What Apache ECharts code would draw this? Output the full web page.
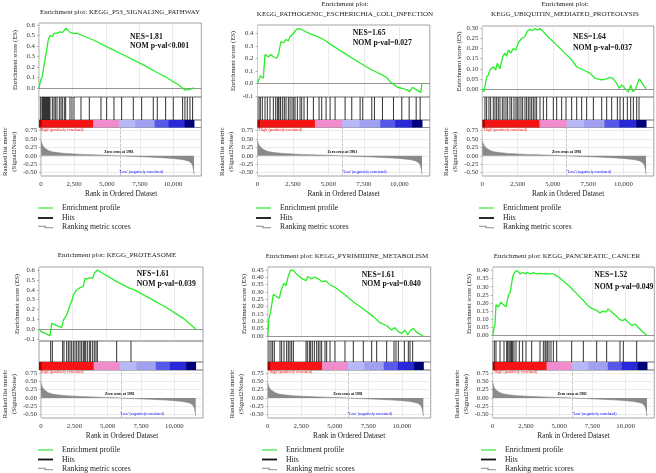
<!DOCTYPE html>
<html><head><meta charset="utf-8">
<script src="https://cdn.jsdelivr.net/npm/echarts@6/dist/echarts.min.js"></script>
<style>html,body{margin:0;padding:0;background:#fff}#c{width:656px;height:473px}</style>
</head><body><div id="c"></div>
<script>
// ================= DATA =================
const titleLines1 = ['Enrichment plot: KEGG_P53_SIGNALING_PATHWAY'];
const titleLines2 = ['Enrichment plot:', 'KEGG_PATHOGENIC_ESCHERICHIA_COLI_INFECTION'];
const titleLines3 = ['Enrichment plot:', 'KEGG_UBIQUITIN_MEDIATED_PROTEOLYSIS'];
const titleLines4 = ['Enrichment plot: KEGG_PROTEASOME'];
const titleLines5 = ['Enrichment plot: KEGG_PYRIMIDINE_METABOLISM'];
const titleLines6 = ['Enrichment plot: KEGG_PANCREATIC_CANCER'];
const nesLabels = ['NES=1.81', 'NES=1.65', 'NES=1.64', 'NFS=1.61', 'NES=1.61', 'NES=1.52'];
const pvalLabels = ['NOM p-val<0.001', 'NOM p-val=0.027', 'NOM p-val=0.037', 'NOM p-val=0.039', 'NOM p-val=0.040', 'NOM p-val=0.049'];

const xTickLabels = ['0', '2,500', '5,000', '7,500', '10,000'];
const rankTickLabels = ['-0.50', '-0.25', '0.00', '0.25', '0.50', '0.75'];
const esTickLabels1 = ['0.0', '0.1', '0.2', '0.3', '0.4', '0.5', '0.6'];
const esTickLabels2 = ['-0.1', '0.0', '0.1', '0.2', '0.3', '0.4'];
const esTickLabels3 = ['0.00', '0.05', '0.10', '0.15', '0.20', '0.25', '0.30'];
const esTickLabels4 = ['-0.1', '0.0', '0.1', '0.2', '0.3', '0.4', '0.5', '0.6'];
const esTickLabels5 = ['0.00', '0.05', '0.10', '0.15', '0.20', '0.25', '0.30', '0.35', '0.40', '0.45'];
const esTickLabels6 = ['0.00', '0.05', '0.10', '0.15', '0.20', '0.25', '0.30', '0.35', '0.40'];

// Enrichment score curves
const es1Ranks = [0,125,249,399,499,574,698,823,1023,1122,1322,1571,1771,1871,2020,2320,2569,2869,3318,4066,5313,6560,7808,8805,9554,10052,10427,10925,11050,11300,11424,11600];
const es1Values = [0,0.076,0.11,0.235,0.25,0.36,0.46,0.50,0.49,0.52,0.52,0.535,0.53,0.545,0.57,0.53,0.52,0.52,0.495,0.457,0.378,0.30,0.22,0.15,0.10,0.06,0.03,-0.02,-0.035,-0.013,-0.02,0];
const es2Ranks = [0,100,200,340,410,530,770,930,1130,1360,1500,1640,1830,2020,2180,2300,2470,2590,2770,3010,3250,3720,4190,4660,5370,6320,7260,7970,8440,8800,9150,9430,9860,10170,10280,10570,10730,10920,11230,11510,11600];
const es2Values = [0,-0.013,0.06,0.05,0.04,0.23,0.21,0.23,0.21,0.20,0.24,0.33,0.325,0.35,0.34,0.375,0.39,0.40,0.433,0.436,0.42,0.395,0.375,0.35,0.295,0.227,0.16,0.112,0.086,0.067,0.04,0.005,-0.032,-0.04,-0.027,-0.053,-0.067,-0.032,-0.053,-0.075,0];
const es3Ranks = [0,118,236,307,425,543,661,780,945,1063,1252,1441,1606,1725,1843,2008,2197,2386,2551,2788,3024,3189,3378,3567,3733,3898,4087,4323,4678,5150,5741,6331,6686,7158,7631,7985,8221,8458,8576,8812,8930,9049,9285,9521,9686,9875,10040,10159,10348,10513,10655,10820,10938,11127,11600];
const es3Values = [0,-0.013,-0.021,0.058,0.07,0.094,0.086,0.11,0.094,0.127,0.10,0.16,0.177,0.163,0.193,0.177,0.20,0.193,0.23,0.25,0.26,0.287,0.295,0.289,0.30,0.292,0.30,0.284,0.256,0.226,0.185,0.144,0.11,0.094,0.078,0.053,0.048,0.045,0.053,0.05,0.045,0.058,0.05,0.028,0.003,0.02,0.008,0.016,-0.016,0.02,-0.013,-0.005,0.003,0.05,0];
const es4Ranks = [0,148,815,938,1679,1802,2049,2296,2420,2543,2790,3037,3284,3407,3580,3778,3975,4099,4321,4469,5753,6741,6988,8222,9457,10691,11600];
const es4Values = [0,-0.027,-0.068,0.058,0.014,0.09,0.143,0.246,0.28,0.348,0.40,0.423,0.433,0.519,0.512,0.526,0.519,0.57,0.604,0.597,0.485,0.416,0.406,0.314,0.218,0.109,0];
const es5Ranks = [0,97,221,296,420,668,867,991,1215,1364,1538,1712,1960,2159,2532,2855,2979,3277,3526,3849,4023,4346,4644,5016,5638,6383,7128,7873,8370,8867,9240,9488,9737,9985,10234,10433,10606,10855,11103,11600];
const es5Values = [0,0.12,0.166,0.155,0.284,0.268,0.257,0.31,0.36,0.343,0.41,0.45,0.443,0.42,0.393,0.377,0.405,0.389,0.402,0.386,0.37,0.375,0.348,0.332,0.29,0.234,0.184,0.132,0.091,0.07,0.041,0.057,0.03,0.018,0.041,0.007,0.034,0.052,0.025,0];
const es6Ranks = [0,95,173,248,423,624,799,999,1100,1175,1300,1426,1501,1601,1751,1927,2052,2253,2428,2603,2804,3054,3305,3556,3806,4056,4307,4558,4934,5310,5811,6312,6813,7191,7517,7814,8065,8315,8516,8692,8868,9194,9570,9770,9945,10196,10447,10698,10949,11326,11600];
const es6Values = [0,-0.008,0.069,0.188,0.174,0.205,0.188,0.174,0.163,0.247,0.26,0.32,0.362,0.383,0.40,0.393,0.379,0.389,0.379,0.389,0.379,0.387,0.379,0.383,0.379,0.381,0.379,0.379,0.362,0.335,0.30,0.257,0.215,0.18,0.163,0.153,0.138,0.149,0.142,0.163,0.149,0.126,0.096,0.09,0.10,0.08,0.059,0.069,0.048,0.017,0];

// Hit positions (rank of each gene-set member)
const hits1 = [125,224,274,324,374,424,474,524,574,624,673,723,773,823,998,1122,1222,1347,1521,1646,1746,1896,1996,2320,2469,2619,3143,3767,4640,5064,5612,6186,7059,7683,8556,8855,9479,10052,10751,10925,11100,11300,11499];
const hits2 = [106,200,341,529,694,882,1118,1282,1400,1471,1588,1635,1776,1894,2012,2176,2294,2435,2553,2647,2812,3000,3118,3282,3518,3941,4341,4529,4835,5118,5471,6176,6647,7235,7424,8059,8247,8812,9588,10176,10694,11188,11471];
const hits3 = [189,307,472,591,780,898,1016,1134,1252,1417,1536,1677,1795,1961,2079,2244,2386,2480,2599,2740,2858,3024,3142,3260,3378,3497,3615,3733,3851,4087,4323,4559,5032,5268,5623,5930,6331,6686,7040,7394,7867,8458,8812,9166,9568,9757,9993,10276,10513,10702,10938,11103];
const hits4 = [864,988,1753,1852,2049,2173,2296,2420,2543,2667,2790,2914,3037,3160,3284,3358,3457,3580,3728,3827,3975,4099,4222,4321,5753,6815];
const hits5 = [97,246,370,494,917,1041,1215,1414,1538,1662,1786,1911,2855,2954,3104,3203,3327,3476,3650,3774,3898,4023,4271,4395,4644,5016,5761,6383,7128,7749,8122,8867,9413,9563,9737,10184,10483,10607,10806];
const hits6 = [123,248,549,850,1050,1125,1225,1301,1376,1426,1501,1601,1752,2002,2253,2504,2930,3556,3807,3933,4008,4108,4233,4383,4559,4809,5937,6814,7817,8569,9571,9822,10824];

// Ranked list metric (shared ranked list)
const rankedRanks = [0,60,150,320,550,820,1200,1800,2500,3100,3800,4300,5000,5600,5981,6400,7000,7600,8200,8800,9400,10000,10500,10900,11200,11400,11500,11560,11600];
const rankedValues = [0.45,0.36,0.29,0.22,0.16,0.12,0.095,0.07,0.055,0.042,0.032,0.025,0.015,0.006,0,-0.008,-0.018,-0.028,-0.038,-0.05,-0.063,-0.08,-0.1,-0.125,-0.16,-0.22,-0.3,-0.42,-0.55];
const zeroCross = 5981;
const colorBandEdges = [0,200,4050,5980,7200,8650,9700,10900,11600];
const rankAxisMax = 12150;

// ================= STYLE / LAYOUT =================
const bandColors = ['#b00000','#f41414','#f08ccc','#b8b8f6','#a0a0f0','#5858e8','#2828d8','#00007c'];
const FONT = 'Liberation Serif';
const GREEN = '#2aee2a';
const layout = [
  {left:39,    right:201.3, esTop:23,  esBot:97,  hitBot:120, cbBot:127.5, rkBot:176, esRange:[-0.086,0.619], esGap:20.5, rkGap:21, titleX:120, titleY:[12.3], nesX:130,   nesY:[37,46],   legX:38,  legY:[208,218,227]},
  {left:257.5, right:429.8, esTop:25,  esBot:97,  hitBot:120, cbBot:127.5, rkBot:176, esRange:[-0.11,0.466],  esGap:21,   rkGap:21, titleX:345, titleY:[4,14],  nesX:352.7, nesY:[33,43],   legX:256, legY:[208,218,227]},
  {left:482.3, right:653.8, esTop:26,  esBot:97,  hitBot:120, cbBot:127.5, rkBot:176, esRange:[-0.04,0.312],  esGap:18,   rkGap:18, titleX:565, titleY:[4,14],  nesX:573,   nesY:[37,48],   legX:479, legY:[208,218,227]},
  {left:39,    right:203,   esTop:267, esBot:341, hitBot:362, cbBot:370,   rkBot:418, esRange:[-0.123,0.635], esGap:13,   rkGap:21, titleX:117, titleY:[255],   nesX:136.7, nesY:[274,284.3], legX:38,  legY:[450,459.5,469]},
  {left:267.7, right:430.7, esTop:267, esBot:341, hitBot:362, cbBot:370,   rkBot:418, esRange:[-0.034,0.47],  esGap:20,   rkGap:20, titleX:347, titleY:[256],   nesX:361.7, nesY:[275,284.3], legX:262, legY:[450,459.5,469]},
  {left:492.7, right:654.3, esTop:267, esBot:341, hitBot:362, cbBot:370,   rkBot:418, esRange:[-0.036,0.422], esGap:18.5, rkGap:18, titleX:567, titleY:[256],   nesX:594.3, nesY:[275,286.7], legX:481, legY:[450,459.5,469]}
];

const panels = [
  {title:titleLines1, esR:es1Ranks, esV:es1Values, hits:hits1, ticks:esTickLabels1},
  {title:titleLines2, esR:es2Ranks, esV:es2Values, hits:hits2, ticks:esTickLabels2},
  {title:titleLines3, esR:es3Ranks, esV:es3Values, hits:hits3, ticks:esTickLabels3},
  {title:titleLines4, esR:es4Ranks, esV:es4Values, hits:hits4, ticks:esTickLabels4},
  {title:titleLines5, esR:es5Ranks, esV:es5Values, hits:hits5, ticks:esTickLabels5},
  {title:titleLines6, esR:es6Ranks, esV:es6Values, hits:hits6, ticks:esTickLabels6}
];

const num = s => Number(String(s).replace(/,/g, ''));
const fmtFrom = labels => v => { const m = labels.find(l => Math.abs(num(l) - v) < 1e-9); return m === undefined ? '' : m; };
const zip = (a, b) => a.map((x, i) => [x, b[i]]);

const xTickVals = xTickLabels.map(num);
const rankTickVals = rankTickLabels.map(num);
const bandData = colorBandEdges.slice(0, -1).map((s, i) => [s, colorBandEdges[i + 1]]);

const grids = [], xAxes = [], yAxes = [], series = [], graphics = [];
const gridLine = {show:true, lineStyle:{color:'#e3e3e3', width:0.7}};
const noGrid = {show:false};
const labelStyle = {fontFamily:FONT, fontSize:6.8, color:'#333'};

panels.forEach((P, i) => {
  const L = layout[i];
  const w = L.right - L.left;
  const gi = grids.length;
  const mk = (t, b) => ({left:L.left, top:t, width:w, height:b - t, show:true, borderColor:'#8c8c8c', borderWidth:0.8});
  grids.push(mk(L.esTop, L.esBot), mk(L.esBot, L.hitBot), mk(L.hitBot, L.cbBot), mk(L.cbBot, L.rkBot));

  const esTickVals = P.ticks.map(num);
  // x axes
  xAxes.push({type:'value', gridIndex:gi, min:0, max:rankAxisMax, axisLine:{show:false},
    axisTick:{show:false, customValues:xTickVals}, axisLabel:{show:false, customValues:xTickVals}, splitLine:gridLine});
  xAxes.push({type:'value', gridIndex:gi + 1, min:0, max:rankAxisMax, show:false});
  xAxes.push({type:'value', gridIndex:gi + 2, min:0, max:rankAxisMax, show:false});
  xAxes.push({type:'value', gridIndex:gi + 3, min:0, max:rankAxisMax, axisLine:{show:false},
    axisTick:{show:false, customValues:xTickVals},
    axisLabel:Object.assign({customValues:xTickVals, formatter:fmtFrom(xTickLabels), margin:5}, labelStyle),
    splitLine:gridLine,
    name:'Rank in Ordered Dataset', nameLocation:'middle', nameGap:15,
    nameTextStyle:{fontFamily:FONT, fontSize:7.3, color:'#222'}});
  // y axes
  yAxes.push({type:'value', gridIndex:gi, min:L.esRange[0], max:L.esRange[1], axisLine:{show:false},
    axisTick:{show:true, length:2, customValues:esTickVals, lineStyle:{color:'#888', width:0.6}},
    axisLabel:Object.assign({customValues:esTickVals, formatter:fmtFrom(P.ticks), margin:4}, labelStyle),
    splitLine:noGrid,
    name:'Enrichment score (ES)', nameLocation:'middle', nameRotate:90, nameGap:L.esGap,
    nameTextStyle:{fontFamily:FONT, fontSize:6.6, color:'#222'}});
  yAxes.push({type:'value', gridIndex:gi + 1, min:0, max:1, show:false});
  yAxes.push({type:'value', gridIndex:gi + 2, min:0, max:1, show:false});
  yAxes.push({type:'value', gridIndex:gi + 3, min:-0.6, max:0.84, axisLine:{show:false},
    axisTick:{show:true, length:2, customValues:rankTickVals, lineStyle:{color:'#888', width:0.6}},
    axisLabel:Object.assign({customValues:rankTickVals, formatter:fmtFrom(rankTickLabels), margin:4}, labelStyle),
    splitLine:gridLine,
    name:'Ranked list metric\n(Signal2Noise)', nameLocation:'middle', nameRotate:90, nameGap:L.rkGap,
    nameTextStyle:{fontFamily:FONT, fontSize:6.6, color:'#222', lineHeight:9}});

  // series
  series.push({type:'line', name:'Enrichment profile', xAxisIndex:gi, yAxisIndex:gi,
    data:zip(P.esR, P.esV), showSymbol:false, symbol:'none', z:5,
    lineStyle:{color:GREEN, width:1.3}, itemStyle:{color:GREEN},
    markLine:{silent:true, symbol:'none', label:{show:false}, animation:false,
      lineStyle:{color:'#7a7a7a', width:0.8, type:'solid'}, data:[{yAxis:0}]}});
  series.push({type:'custom', name:'Hits', xAxisIndex:gi + 1, yAxisIndex:gi + 1,
    data:P.hits.map(r => [r, 0]), encode:{x:0, y:1}, itemStyle:{color:'#000'},
    renderItem:(params, api) => {
      const a = api.coord([api.value(0), 0]), b = api.coord([api.value(0), 1]);
      return {type:'line', shape:{x1:a[0], y1:a[1], x2:b[0], y2:b[1]}, style:{stroke:'#1a1a1a', lineWidth:0.9}};
    }});
  series.push({type:'custom', name:'colorbar' + i, xAxisIndex:gi + 2, yAxisIndex:gi + 2,
    data:bandData, encode:{x:[0, 1]},
    renderItem:(params, api) => {
      const a = api.coord([api.value(0), 1]), b = api.coord([api.value(1), 0]);
      return {type:'rect', shape:{x:a[0], y:a[1], width:b[0] - a[0] + 0.5, height:b[1] - a[1]}, style:{fill:bandColors[params.dataIndex]}};
    }});
  series.push({type:'line', name:'Ranking metric scores', xAxisIndex:gi + 3, yAxisIndex:gi + 3,
    data:zip(rankedRanks, rankedValues), showSymbol:false, symbol:'none',
    lineStyle:{color:'#8a8a8a', width:0.6}, itemStyle:{color:'#8a8a8a'},
    areaStyle:{color:'#8a8a8a', opacity:1},
    markLine:{silent:true, symbol:'none', label:{show:false}, animation:false,
      lineStyle:{color:'#a8a8a8', width:0.7, type:'dashed'}, data:[{xAxis:zeroCross}]}});

  // text: titles
  P.title.forEach((t, k) => graphics.push({type:'text', x:L.titleX, y:L.titleY[k],
    style:{text:t, font:'7px ' + FONT, fill:'#222', align:'center', verticalAlign:'middle'}}));
  // NES / p-value
  graphics.push({type:'text', x:L.nesX, y:L.nesY[0], z:10, style:{text:nesLabels[i], font:'bold 7.7px ' + FONT, fill:'#111', align:'left', verticalAlign:'middle'}});
  graphics.push({type:'text', x:L.nesX, y:L.nesY[1], z:10, style:{text:pvalLabels[i], font:'bold 7.7px ' + FONT, fill:'#111', align:'left', verticalAlign:'middle'}});
  // annotations in ranked plot
  const sx = r => L.left + r / rankAxisMax * w;
  const rkTop = L.cbBot, rkH = L.rkBot - L.cbBot;
  const sy = v => rkTop + (0.84 - v) / 1.44 * rkH;
  graphics.push({type:'text', x:L.left + 1, y:rkTop + 2.2, z:10, style:{text:"'High' (positively correlated)", font:'3.8px ' + FONT, fill:'#ff0000', align:'left', verticalAlign:'middle'}});
  graphics.push({type:'text', x:sx(zeroCross), y:sy(0.12), z:10, style:{text:'Zero cross at ' + zeroCross, font:'bold 3.8px ' + FONT, fill:'#000', align:'center', verticalAlign:'middle'}});
  graphics.push({type:'text', x:sx(zeroCross) + 0.5, y:L.rkBot - 4, z:10, style:{text:"'Low' (negatively correlated)", font:'3.8px ' + FONT, fill:'#0000ff', align:'left', verticalAlign:'middle'}});
  // legend
  const lx = L.legX, ly = L.legY;
  graphics.push({type:'line', shape:{x1:lx, y1:ly[0], x2:lx + 15, y2:ly[0]}, style:{stroke:'#66ee66', lineWidth:1.6}});
  graphics.push({type:'line', shape:{x1:lx, y1:ly[1], x2:lx + 15, y2:ly[1]}, style:{stroke:'#111', lineWidth:1.8}});
  graphics.push({type:'polyline', shape:{points:[[lx, ly[2] - 0.7], [lx + 7, ly[2] - 0.7], [lx + 7, ly[2] + 0.7], [lx + 15, ly[2] + 0.7]]}, style:{stroke:'#8a8a8a', lineWidth:1.1, fill:null}});
  ['Enrichment profile', 'Hits', 'Ranking metric scores'].forEach((t, k) =>
    graphics.push({type:'text', x:lx + 24, y:ly[k], style:{text:t, font:'7.7px ' + FONT, fill:'#222', align:'left', verticalAlign:'middle'}}));
});

const chart = echarts.init(document.getElementById('c'), null, {renderer:'canvas'});
chart.setOption({
  animation:false,
  backgroundColor:'#fff',
  grid:grids, xAxis:xAxes, yAxis:yAxes, series:series,
  graphic:{elements:graphics}
});
</script>
</body></html>
